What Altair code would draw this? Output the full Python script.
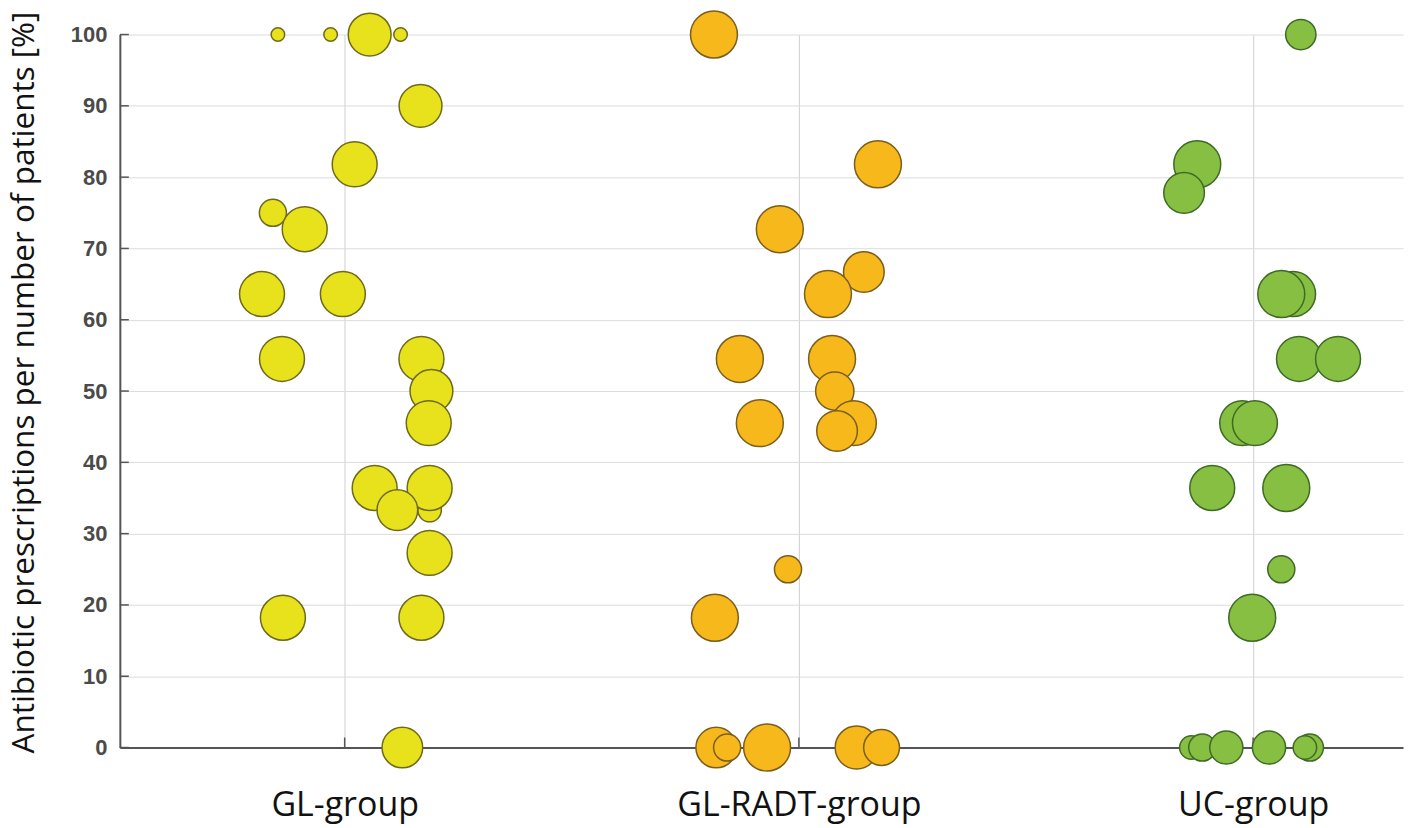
import altair as alt
import pandas as pd

# ---- data ----
groups = ["GL-group", "GL-RADT-group", "UC-group"]
fill_colors = ["#e8e21c", "#f7b81c", "#86bf42"]
stroke_colors = ["#6e6a1c", "#7a5e1c", "#3f6a26"]

# horizontal jitter (in category units), percentage, number of patients (bubble size)
gl_jitter = [-0.147, -0.031, 0.055, 0.123, 0.167, 0.022, -0.158, -0.088, -0.182, -0.004,
             -0.138, 0.169, 0.187, 0.191, 0.185, 0.066, 0.187, 0.116, 0.187, -0.136, 0.169, 0.127]
gl_pct = [100, 100, 100, 100, 90, 81.8, 75, 72.7, 63.6, 63.6,
          54.5, 54.5, 33.3, 50, 45.5, 36.4, 36.4, 33.3, 27.3, 18.2, 18.2, 0]
gl_n = [1, 1, 10, 1, 10, 11, 4, 11, 11, 11,
        11, 11, 3, 10, 11, 11, 11, 9, 11, 11, 11, 9]

radt_jitter = [-0.187, 0.174, -0.042, 0.143, 0.064, -0.130, 0.073, 0.079, 0.121, -0.086,
               0.084, -0.024, -0.185, -0.182, -0.158, -0.070, 0.127, 0.182]
radt_pct = [100, 81.8, 72.7, 66.7, 63.6, 54.5, 54.5, 50, 45.5, 45.5,
            44.4, 25, 18.2, 0, 0, 0, 0, 0]
radt_n = [12, 12, 12, 9, 12, 12, 12, 8, 11, 12,
          9, 4, 12, 9, 4, 12, 10, 7]

uc_jitter = [0.105, -0.123, -0.152, 0.088, 0.062, 0.101, 0.187, -0.024, 0.004, -0.090,
             0.073, 0.062, -0.002, -0.136, -0.112, -0.059, 0.035, 0.125, 0.114]
uc_pct = [100, 81.8, 77.8, 63.6, 63.6, 54.5, 54.5, 45.5, 45.5, 36.4,
          36.4, 25, 18.2, 0, 0, 0, 0, 0, 0]
uc_n = [5, 12, 9, 11, 12, 11, 11, 11, 11, 11,
        12, 4, 12, 3, 4, 6, 6, 4, 3]

y_ticks = [0, 10, 20, 30, 40, 50, 60, 70, 80, 90, 100]
x_ticks = [1, 2, 3]

# ---- build table ----
rows = []
for gi, (jit, pct, n) in enumerate([(gl_jitter, gl_pct, gl_n),
                                     (radt_jitter, radt_pct, radt_n),
                                     (uc_jitter, uc_pct, uc_n)]):
    for j, p, k in zip(jit, pct, n):
        rows.append({"group": groups[gi], "x": gi + 1 + j, "pct": p, "n": k})
df = pd.DataFrame(rows)
df["order"] = range(len(df))

W, H = 1285, 714
x_scale = alt.Scale(domain=[0.505, 3.33], nice=False, zero=False)
y_scale = alt.Scale(domain=[0, 100], nice=False)

label_expr = " : ".join(
    f"datum.value == {i + 1} ? '{g}'" for i, g in enumerate(groups)
) + " : ''"

points = alt.Chart(df).mark_point(
    shape="circle", filled=True, opacity=1, strokeWidth=1.5
).encode(
    x=alt.X("x:Q", scale=x_scale, axis=alt.Axis(
        values=x_ticks, labelExpr=label_expr, title=None, ticks=False,
        grid=True, gridColor="#cfcfcf", gridWidth=1,
        domainColor="#555555", domainWidth=2,
        labelFont="Open Sans", labelFontSize=34, labelColor="#111111",
        labelPadding=41, labelOverlap=False, labelFlush=False, labelLimit=0)),
    y=alt.Y("pct:Q", scale=y_scale, axis=alt.Axis(
        values=y_ticks, title="Antibiotic prescriptions per number of patients [%]",
        ticks=False, grid=True, gridColor="#dcdcdc", gridWidth=1,
        domainColor="#555555", domainWidth=2,
        labelFont="Liberation Sans", labelFontSize=22, labelFontWeight="bold",
        labelColor="#4a4a4a", labelPadding=13,
        titleFont="Open Sans", titleFontSize=31.5, titleFontWeight="normal",
        titleColor="#111111", titleX=-95, titleY=348, titleAngle=270,
        titleAlign="center", titleBaseline="middle", titleLimit=0)),
    fill=alt.Fill("group:N", scale=alt.Scale(domain=groups, range=fill_colors), legend=None),
    stroke=alt.Stroke("group:N", scale=alt.Scale(domain=groups, range=stroke_colors), legend=None),
    size=alt.Size("n:Q", scale=alt.Scale(domain=[0, 12], range=[0, 2209], zero=True), legend=None),
    order=alt.Order("order:Q"),
)

ytick_df = pd.DataFrame({"v": y_ticks})
yticks = alt.Chart(ytick_df).mark_rule(color="#555555", strokeWidth=1.5).encode(
    y=alt.Y("v:Q", scale=y_scale),
    x=alt.value(0), x2=alt.value(9),
)

xtick_df = pd.DataFrame({"v": x_ticks})
xticks = alt.Chart(xtick_df).mark_rule(color="#555555", strokeWidth=1.5).encode(
    x=alt.X("v:Q", scale=x_scale),
    y=alt.value(H), y2=alt.value(H - 10),
)

chart = alt.layer(yticks, xticks, points).properties(
    width=W, height=H,
    autosize=alt.AutoSizeParams(type="none"),
    padding={"left": 112, "top": 26, "right": 5, "bottom": 80},
    background="white",
).configure_view(stroke=None)

chart.save("out.html", embed_options={"renderer": "svg", "actions": False})
